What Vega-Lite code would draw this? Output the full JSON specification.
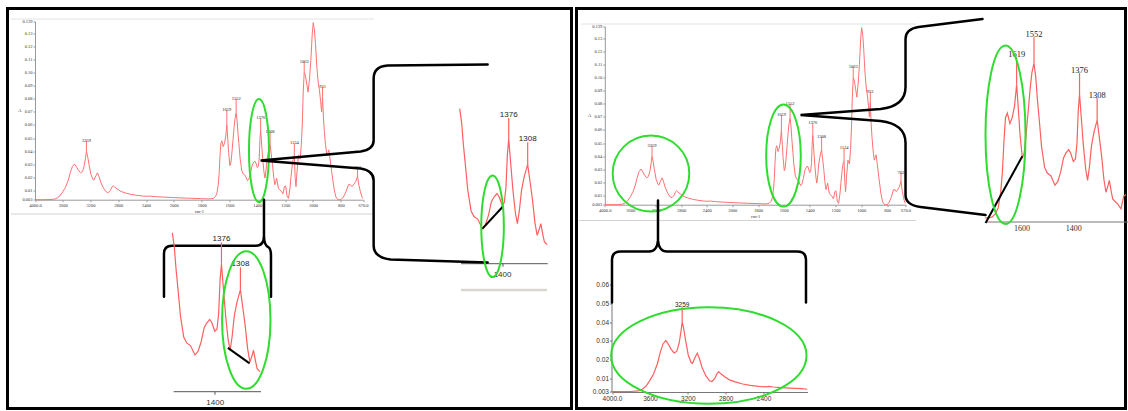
{
  "$schema": "https://vega.github.io/schema/vega-lite/v6.json",
  "autosize": {"type": "pad"},
  "padding": {"left": 5.5, "top": 6.5, "right": 1, "bottom": 1},
  "bounds": "flush",
  "spacing": 5,
  "background": "white",
  "config": {
    "view": {"stroke": "black", "strokeWidth": 3},
    "axis": {"grid": false}
  },
  "datasets": {
    "spectrum": [
      {"w": 4000, "A": 0.003}, {"w": 3900, "A": 0.003}, {"w": 3800, "A": 0.0031}, {"w": 3720, "A": 0.0034},
      {"w": 3680, "A": 0.0043}, {"w": 3640, "A": 0.006}, {"w": 3600, "A": 0.009}, {"w": 3560, "A": 0.0125},
      {"w": 3520, "A": 0.018}, {"w": 3490, "A": 0.024}, {"w": 3460, "A": 0.0285}, {"w": 3431, "A": 0.0302},
      {"w": 3405, "A": 0.0282}, {"w": 3375, "A": 0.0255}, {"w": 3344, "A": 0.0236}, {"w": 3315, "A": 0.0245},
      {"w": 3290, "A": 0.029}, {"w": 3272, "A": 0.035}, {"w": 3259, "A": 0.040}, {"w": 3245, "A": 0.037},
      {"w": 3222, "A": 0.030}, {"w": 3195, "A": 0.0225}, {"w": 3165, "A": 0.0185}, {"w": 3150, "A": 0.018},
      {"w": 3125, "A": 0.021}, {"w": 3100, "A": 0.0235}, {"w": 3080, "A": 0.021}, {"w": 3050, "A": 0.016},
      {"w": 3010, "A": 0.0115}, {"w": 2970, "A": 0.0088}, {"w": 2945, "A": 0.0084}, {"w": 2915, "A": 0.010},
      {"w": 2890, "A": 0.0128}, {"w": 2873, "A": 0.0136}, {"w": 2850, "A": 0.0125}, {"w": 2810, "A": 0.011},
      {"w": 2760, "A": 0.0093}, {"w": 2700, "A": 0.0082}, {"w": 2620, "A": 0.0071}, {"w": 2540, "A": 0.0064},
      {"w": 2450, "A": 0.0058}, {"w": 2380, "A": 0.0056}, {"w": 2340, "A": 0.0058}, {"w": 2300, "A": 0.0055},
      {"w": 2220, "A": 0.0052}, {"w": 2120, "A": 0.0049}, {"w": 2000, "A": 0.0046}, {"w": 1940, "A": 0.0043},
      {"w": 1880, "A": 0.0041}, {"w": 1800, "A": 0.0038}, {"w": 1740, "A": 0.0036}, {"w": 1715, "A": 0.004},
      {"w": 1700, "A": 0.0055}, {"w": 1690, "A": 0.008}, {"w": 1681, "A": 0.014}, {"w": 1674, "A": 0.023},
      {"w": 1668, "A": 0.036}, {"w": 1662, "A": 0.046}, {"w": 1655, "A": 0.048}, {"w": 1645, "A": 0.0435},
      {"w": 1636, "A": 0.046}, {"w": 1627, "A": 0.051}, {"w": 1619, "A": 0.060}, {"w": 1612, "A": 0.049},
      {"w": 1606, "A": 0.039}, {"w": 1597, "A": 0.029}, {"w": 1590, "A": 0.031}, {"w": 1584, "A": 0.037},
      {"w": 1575, "A": 0.048}, {"w": 1567, "A": 0.058}, {"w": 1560, "A": 0.065}, {"w": 1552, "A": 0.069},
      {"w": 1545, "A": 0.063}, {"w": 1539, "A": 0.054}, {"w": 1530, "A": 0.043}, {"w": 1523, "A": 0.034},
      {"w": 1511, "A": 0.025}, {"w": 1500, "A": 0.0225}, {"w": 1487, "A": 0.0215}, {"w": 1471, "A": 0.0175},
      {"w": 1460, "A": 0.019}, {"w": 1449, "A": 0.023}, {"w": 1438, "A": 0.029}, {"w": 1429, "A": 0.031},
      {"w": 1418, "A": 0.0325}, {"w": 1410, "A": 0.031}, {"w": 1400, "A": 0.0275}, {"w": 1392, "A": 0.0285},
      {"w": 1386, "A": 0.035}, {"w": 1381, "A": 0.049}, {"w": 1376, "A": 0.056}, {"w": 1370, "A": 0.047},
      {"w": 1361, "A": 0.034}, {"w": 1352, "A": 0.024}, {"w": 1345, "A": 0.0195}, {"w": 1338, "A": 0.025},
      {"w": 1330, "A": 0.034}, {"w": 1320, "A": 0.040}, {"w": 1308, "A": 0.045}, {"w": 1300, "A": 0.038},
      {"w": 1291, "A": 0.030}, {"w": 1282, "A": 0.020}, {"w": 1274, "A": 0.0145}, {"w": 1267, "A": 0.017},
      {"w": 1261, "A": 0.0195}, {"w": 1254, "A": 0.015}, {"w": 1248, "A": 0.0117}, {"w": 1238, "A": 0.0105},
      {"w": 1228, "A": 0.0095}, {"w": 1216, "A": 0.0075}, {"w": 1205, "A": 0.013}, {"w": 1196, "A": 0.0135},
      {"w": 1187, "A": 0.006}, {"w": 1176, "A": 0.004}, {"w": 1165, "A": 0.012}, {"w": 1158, "A": 0.020},
      {"w": 1148, "A": 0.030}, {"w": 1140, "A": 0.035}, {"w": 1134, "A": 0.036}, {"w": 1128, "A": 0.020},
      {"w": 1122, "A": 0.013}, {"w": 1115, "A": 0.024}, {"w": 1104, "A": 0.037}, {"w": 1092, "A": 0.034},
      {"w": 1084, "A": 0.045}, {"w": 1077, "A": 0.060}, {"w": 1070, "A": 0.085}, {"w": 1063, "A": 0.100},
      {"w": 1055, "A": 0.098}, {"w": 1044, "A": 0.091}, {"w": 1035, "A": 0.085}, {"w": 1025, "A": 0.095},
      {"w": 1015, "A": 0.110}, {"w": 1005, "A": 0.130}, {"w": 998, "A": 0.138}, {"w": 990, "A": 0.133},
      {"w": 982, "A": 0.122}, {"w": 972, "A": 0.104}, {"w": 962, "A": 0.092}, {"w": 953, "A": 0.086},
      {"w": 945, "A": 0.078}, {"w": 938, "A": 0.070}, {"w": 931, "A": 0.081}, {"w": 925, "A": 0.066},
      {"w": 918, "A": 0.055}, {"w": 910, "A": 0.045}, {"w": 900, "A": 0.037}, {"w": 892, "A": 0.039},
      {"w": 886, "A": 0.041}, {"w": 877, "A": 0.034}, {"w": 865, "A": 0.024}, {"w": 848, "A": 0.011},
      {"w": 835, "A": 0.005}, {"w": 820, "A": 0.003}, {"w": 800, "A": 0.003}, {"w": 785, "A": 0.005},
      {"w": 770, "A": 0.009}, {"w": 755, "A": 0.0145}, {"w": 745, "A": 0.0145}, {"w": 735, "A": 0.013},
      {"w": 722, "A": 0.015}, {"w": 712, "A": 0.017}, {"w": 702, "A": 0.021}, {"w": 694, "A": 0.014},
      {"w": 685, "A": 0.009}, {"w": 676, "A": 0.005}, {"w": 670, "A": 0.004}
    ],
    "peaks": [
      {"w": 3259, "A": 0.048, "base": 0.040},
      {"w": 1619, "A": 0.0715, "base": 0.060},
      {"w": 1552, "A": 0.080, "base": 0.069},
      {"w": 1376, "A": 0.065, "base": 0.056},
      {"w": 1308, "A": 0.0545, "base": 0.045},
      {"w": 1134, "A": 0.046, "base": 0.036},
      {"w": 1063, "A": 0.108, "base": 0.100},
      {"w": 931, "A": 0.089, "base": 0.081},
      {"w": 702, "A": 0.027, "base": 0.021}
    ]
  },
  "hconcat": [
    {
      "width": 564,
      "height": 400,
      "resolve": {
        "scale": {"x": "independent", "y": "independent"},
        "axis": {"x": "independent", "y": "independent"}
      },
      "layer": [
        {
          "data": {"name": "spectrum"},
          "mark": {"type": "line", "opacity": 0},
          "encoding": {
            "x": {"field": "w", "type": "quantitative", "scale": {"domain": [4000, 670], "range": [3, 366], "zero": false, "nice": false},
                  "axis": {"orient": "top", "offset": -10, "labels": false, "ticks": false, "title": null, "domainColor": "#e2e2e2"}},
            "y": {"field": "A", "type": "quantitative", "axis": null}
          }
        },
        {
          "data": {"name": "spectrum"},
          "mark": {"type": "line", "opacity": 0},
          "encoding": {
            "x": {"field": "w", "type": "quantitative", "scale": {"domain": [4000, 670], "range": [3, 366], "zero": false, "nice": false},
                  "axis": {"orient": "bottom", "offset": -195, "labels": false, "ticks": false, "title": null, "domainColor": "#d2d2d2"}},
            "y": {"field": "A", "type": "quantitative", "axis": null}
          }
        },
        {
          "data": {"name": "spectrum"},
          "transform": [{"filter": "datum.w <= 1549 && datum.w >= 1238"}],
          "mark": {"type": "line", "opacity": 0},
          "encoding": {
            "x": {"field": "w", "type": "quantitative", "scale": {"domain": [1549, 1238], "range": [453, 539], "zero": false, "nice": false},
                  "axis": {"orient": "bottom", "offset": -119, "labels": false, "ticks": false, "title": null, "domainColor": "#d9d6cf", "domainWidth": 2.5}},
            "y": {"field": "A", "type": "quantitative", "axis": null}
          }
        },
        {
          "encoding": {
            "x": {
              "field": "w", "type": "quantitative",
              "scale": {"domain": [4000, 2000, 800, 670], "range": [27.5, 166.3, 333.3, 355.5], "zero": false, "nice": false},
              "axis": {
                "orient": "bottom", "offset": -208.8,
                "values": [4000, 3600, 3200, 2800, 2400, 2000, 1800, 1600, 1400, 1200, 1000, 800, 670],
                "labelExpr": "datum.value == 4000 || datum.value == 670 ? format(datum.value, '.1f') : format(datum.value, 'd')",
                "title": "cm-1", "titleFont": "Liberation Serif", "titleFontSize": 4.5, "titleFontWeight": "normal",
                "titleColor": "#333", "titlePadding": 1,
                "labelFont": "Liberation Serif", "labelFontSize": 4.5, "labelColor": "#333", "labelPadding": 1,
                "labelFlush": false, "labelOverlap": false, "tickSize": 2, "tickColor": "#999", "domainColor": "#999"
              }
            },
            "y": {
              "field": "A", "type": "quantitative",
              "scale": {"domain": [0.003, 0.139], "range": [191.2, 12.9], "zero": false, "nice": false},
              "axis": {
                "orient": "left", "offset": -27.5,
                "values": [0.003, 0.01, 0.02, 0.03, 0.04, 0.05, 0.06, 0.07, 0.08, 0.09, 0.10, 0.11, 0.12, 0.13, 0.139],
                "labelExpr": "datum.value < 0.005 || datum.value > 0.135 ? format(datum.value, '.3f') : format(datum.value, '.2f')",
                "title": "A", "titleAngle": 0, "titleAlign": "right", "titleBaseline": "middle",
                "titleFont": "Liberation Serif", "titleFontSize": 4.5, "titleFontWeight": "normal", "titleColor": "#333", "titlePadding": 1,
                "labelFont": "Liberation Serif", "labelFontSize": 4.5, "labelColor": "#333", "labelPadding": 1,
                "labelOverlap": false, "tickSize": 2, "tickColor": "#999", "domainColor": "#999"
              }
            }
          },
          "layer": [
            {"data": {"name": "spectrum"}, "mark": {"type": "line", "color": "#ff7272", "strokeWidth": 1}},
            {"data": {"name": "peaks"}, "mark": {"type": "rule", "color": "#ff7272", "strokeWidth": 1}, "encoding": {"y2": {"field": "base"}}},
            {
              "data": {"name": "peaks"},
              "mark": {"type": "text", "font": "Liberation Serif", "fontSize": 4.5, "color": "#222", "baseline": "bottom", "dy": 2},
              "encoding": {"text": {"field": "w", "type": "quantitative", "format": "d"}}
            },
            {
              "data": {"values": [{"w": 1388, "A": 0.0405}]},
              "mark": {"type": "point", "shape": "M10,0C10,28.4 5.5,51.5 0,51.5C-5.5,51.5 -10,28.4 -10,0C-10,-28.4 -5.5,-51.5 0,-51.5C5.5,-51.5 10,-28.4 10,0Z", "size": 4, "filled": false, "color": "#2fdc2f", "strokeWidth": 2, "opacity": 1}
            },
            {
              "data": {"values": [{"w": 1376, "A": 0.0329}]},
              "mark": {"type": "point", "shape": "M227,-96L127,-95Q113,-94 113,-82L113,-20Q113,-11 100,-9L0,0L100,8Q113,10 113,20L113,85Q113,97 130,99L227,102", "size": 4, "filled": false, "color": "black", "strokeWidth": 2.5, "strokeCap": "round", "opacity": 1}
            },
            {
              "data": {"values": [{"w": 1352, "A": 0.003}]},
              "mark": {"type": "point", "shape": "M-100,97L-100,54Q-100,46 -92,46L-8,46Q0,46 0,36L0,0M0,36Q0,46 5,48Q7,50 7,56L7,97", "size": 4, "filled": false, "color": "black", "strokeWidth": 2.5, "strokeCap": "round", "opacity": 1}
            }
          ]
        },
        {
          "encoding": {
            "x": {
              "field": "w", "type": "quantitative",
              "scale": {"domain": [1549, 1238], "range": [453, 539.7], "zero": false, "nice": false},
              "axis": {
                "orient": "bottom", "offset": -145.3, "values": [1400], "format": "d", "title": null,
                "labelFont": "Liberation Sans", "labelFontSize": 8, "labelColor": "#333", "labelPadding": 4,
                "labelFlush": false, "tickSize": 3, "tickColor": "#555", "domainColor": "#555"
              }
            },
            "y": {
              "field": "A", "type": "quantitative",
              "scale": {"domain": [0.003, 0.0694], "range": [253.6, 99.2], "zero": false, "nice": false},
              "axis": null
            }
          },
          "layer": [
            {"data": {"name": "spectrum"}, "transform": [{"filter": "datum.w <= 1552 && datum.w >= 1238"}], "mark": {"type": "line", "color": "#ff5f5f", "strokeWidth": 1.2}},
            {"data": {"name": "peaks"}, "transform": [{"filter": "datum.w <= 1540 && datum.w >= 1238"}], "mark": {"type": "rule", "color": "#ff5f5f", "strokeWidth": 1.2}, "encoding": {"y2": {"field": "base"}}},
            {
              "data": {"name": "peaks"},
              "transform": [{"filter": "datum.w <= 1540 && datum.w >= 1238"}],
              "mark": {"type": "text", "font": "Liberation Sans", "fontSize": 8, "color": "#222", "baseline": "bottom", "dy": 1},
              "encoding": {"text": {"field": "w", "type": "quantitative", "format": "d"}}
            },
            {
              "data": {"values": [{"w": 1471, "A": 0.0173}, {"w": 1396, "A": 0.027}]},
              "mark": {"type": "line", "color": "black", "strokeWidth": 2}
            },
            {
              "data": {"values": [{"w": 1434, "A": 0.0184}]},
              "mark": {"type": "point", "shape": "M11.3,0C11.3,28.1 6.2,50.8 0,50.8C-6.2,50.8 -11.3,28.1 -11.3,0C-11.3,-28.1 -6.2,-50.8 0,-50.8C6.2,-50.8 11.3,-28.1 11.3,0Z", "size": 4, "filled": false, "color": "#2fdc2f", "strokeWidth": 2, "opacity": 1}
            }
          ]
        },
        {
          "encoding": {
            "x": {
              "field": "w", "type": "quantitative",
              "scale": {"domain": [1549, 1236], "range": [165.7, 253], "zero": false, "nice": false},
              "axis": {
                "orient": "bottom", "offset": -17.3, "values": [1400], "format": "d", "title": null,
                "labelFont": "Liberation Sans", "labelFontSize": 8, "labelColor": "#333", "labelPadding": 4,
                "labelFlush": false, "tickSize": 3, "tickColor": "#555", "domainColor": "#555"
              }
            },
            "y": {
              "field": "A", "type": "quantitative",
              "scale": {"domain": [0.003, 0.068], "range": [380.9, 226.8], "zero": false, "nice": false},
              "axis": null
            }
          },
          "layer": [
            {"data": {"name": "spectrum"}, "transform": [{"filter": "datum.w <= 1552 && datum.w >= 1236"}], "mark": {"type": "line", "color": "#ff5f5f", "strokeWidth": 1.2}},
            {"data": {"name": "peaks"}, "transform": [{"filter": "datum.w <= 1540 && datum.w >= 1236"}], "mark": {"type": "rule", "color": "#ff5f5f", "strokeWidth": 1.2}, "encoding": {"y2": {"field": "base"}}},
            {
              "data": {"name": "peaks"},
              "transform": [{"filter": "datum.w <= 1540 && datum.w >= 1236"}],
              "mark": {"type": "text", "font": "Liberation Sans", "fontSize": 8, "color": "#222", "baseline": "bottom", "dy": 1},
              "encoding": {"text": {"field": "w", "type": "quantitative", "format": "d"}}
            },
            {
              "data": {"values": [{"w": 1353, "A": 0.0205}, {"w": 1275, "A": 0.014}]},
              "mark": {"type": "line", "color": "black", "strokeWidth": 2}
            },
            {
              "data": {"values": [{"w": 1287, "A": 0.0323}]},
              "mark": {"type": "point", "shape": "M24.2,0C24.2,38 13.4,68.8 0,68.8C-13.4,68.8 -24.2,38 -24.2,0C-24.2,-38 -13.4,-68.8 0,-68.8C13.4,-68.8 24.2,-38 24.2,0Z", "size": 4, "filled": false, "color": "#2fdc2f", "strokeWidth": 2, "opacity": 1}
            }
          ]
        }
      ]
    },
    {
      "width": 549,
      "height": 400,
      "resolve": {
        "scale": {"x": "independent", "y": "independent"},
        "axis": {"x": "independent", "y": "independent"}
      },
      "layer": [
        {
          "data": {"name": "spectrum"},
          "mark": {"type": "line", "opacity": 0},
          "encoding": {
            "x": {"field": "w", "type": "quantitative", "scale": {"domain": [4000, 670], "range": [4, 339], "zero": false, "nice": false},
                  "axis": {"orient": "top", "offset": -15, "labels": false, "ticks": false, "title": null, "domainColor": "#e2e2e2"}},
            "y": {"field": "A", "type": "quantitative", "axis": null}
          }
        },
        {
          "data": {"name": "spectrum"},
          "mark": {"type": "line", "opacity": 0},
          "encoding": {
            "x": {"field": "w", "type": "quantitative", "scale": {"domain": [4000, 670], "range": [2, 339], "zero": false, "nice": false},
                  "axis": {"orient": "bottom", "offset": -188.5, "labels": false, "ticks": false, "title": null, "domainColor": "#d2d2d2"}},
            "y": {"field": "A", "type": "quantitative", "axis": null}
          }
        },
        {
          "encoding": {
            "x": {
              "field": "w", "type": "quantitative",
              "scale": {"domain": [4000, 2000, 800, 670], "range": [28.3, 155.7, 310.7, 329], "zero": false, "nice": false},
              "axis": {
                "orient": "bottom", "offset": -203.8,
                "values": [4000, 3600, 3200, 2800, 2400, 2000, 1800, 1600, 1400, 1200, 1000, 800, 670],
                "labelExpr": "datum.value == 4000 || datum.value == 670 ? format(datum.value, '.1f') : format(datum.value, 'd')",
                "title": "cm-1", "titleFont": "Liberation Serif", "titleFontSize": 4.5, "titleFontWeight": "normal",
                "titleColor": "#333", "titlePadding": 1,
                "labelFont": "Liberation Serif", "labelFontSize": 4.5, "labelColor": "#333", "labelPadding": 1,
                "labelFlush": false, "labelOverlap": false, "tickSize": 2, "tickColor": "#999", "domainColor": "#999"
              }
            },
            "y": {
              "field": "A", "type": "quantitative",
              "scale": {"domain": [0.003, 0.139], "range": [196.2, 17.9], "zero": false, "nice": false},
              "axis": {
                "orient": "left", "offset": -28.3,
                "values": [0.003, 0.01, 0.02, 0.03, 0.04, 0.05, 0.06, 0.07, 0.08, 0.09, 0.10, 0.11, 0.12, 0.13, 0.139],
                "labelExpr": "datum.value < 0.005 || datum.value > 0.135 ? format(datum.value, '.3f') : format(datum.value, '.2f')",
                "title": "A", "titleAngle": 0, "titleAlign": "right", "titleBaseline": "middle",
                "titleFont": "Liberation Serif", "titleFontSize": 4.5, "titleFontWeight": "normal", "titleColor": "#333", "titlePadding": 1,
                "labelFont": "Liberation Serif", "labelFontSize": 4.5, "labelColor": "#333", "labelPadding": 1,
                "labelOverlap": false, "tickSize": 2, "tickColor": "#999", "domainColor": "#999"
              }
            }
          },
          "layer": [
            {"data": {"name": "spectrum"}, "mark": {"type": "line", "color": "#ff7272", "strokeWidth": 1}},
            {"data": {"name": "peaks"}, "mark": {"type": "rule", "color": "#ff7272", "strokeWidth": 1}, "encoding": {"y2": {"field": "base"}}},
            {
              "data": {"name": "peaks"},
              "mark": {"type": "text", "font": "Liberation Serif", "fontSize": 4.5, "color": "#222", "baseline": "bottom", "dy": 2},
              "encoding": {"text": {"field": "w", "type": "quantitative", "format": "d"}}
            },
            {
              "data": {"values": [{"w": 3275, "A": 0.0268}]},
              "mark": {"type": "point", "shape": "M38.3,0C38.3,21 21.2,38 0,38C-21.2,38 -38.3,21 -38.3,0C-38.3,-21 -21.2,-38 0,-38C21.2,-38 38.3,-21 38.3,0Z", "size": 4, "filled": false, "color": "#2fdc2f", "strokeWidth": 2, "opacity": 1}
            },
            {
              "data": {"values": [{"w": 1603, "A": 0.0405}]},
              "mark": {"type": "point", "shape": "M17.3,0C17.3,28.2 9.6,51 0,51C-9.6,51 -17.3,28.2 -17.3,0C-17.3,-28.2 -9.6,-51 0,-51C9.6,-51 17.3,-28.2 17.3,0Z", "size": 4, "filled": false, "color": "#2fdc2f", "strokeWidth": 2, "opacity": 1}
            },
            {
              "data": {"values": [{"w": 1471, "A": 0.0714}]},
              "mark": {"type": "point", "shape": "M182,-96L118,-88Q105,-86 105,-76L105,-28Q105,-9 80,-6L0,0L80,6Q105,9 105,28L105,80Q105,90 120,92L185,100", "size": 4, "filled": false, "color": "black", "strokeWidth": 2.5, "strokeCap": "round", "opacity": 1}
            },
            {
              "data": {"values": [{"w": 3165, "A": 0.0062}]},
              "mark": {"type": "point", "shape": "M-46,102L-46,59Q-46,51 -37,51L-9,51Q-1,51 0,40L0,0M0,40Q1,51 9,51L139,51Q148,51 148,59L148,102", "size": 4, "filled": false, "color": "black", "strokeWidth": 2.5, "strokeCap": "round", "opacity": 1}
            }
          ]
        },
        {
          "encoding": {
            "x": {
              "field": "w", "type": "quantitative",
              "scale": {"domain": [1735, 1185], "range": [410.1, 552.5], "zero": false, "nice": false},
              "axis": {
                "orient": "bottom", "offset": -187, "values": [1600, 1400], "format": "d", "title": null,
                "labelFont": "Liberation Serif", "labelFontSize": 8, "labelColor": "#333", "labelPadding": 3,
                "labelFlush": false, "tickSize": 0, "domainColor": "#777"
              }
            },
            "y": {
              "field": "A", "type": "quantitative",
              "scale": {"domain": [0.003, 0.0935], "range": [211, -3.3], "zero": false, "nice": false},
              "axis": null
            }
          },
          "layer": [
            {"data": {"name": "spectrum"}, "transform": [{"filter": "datum.w <= 1740 && datum.w >= 1190"}], "mark": {"type": "line", "color": "#ff5f5f", "strokeWidth": 1.2}},
            {"data": {"name": "peaks"}, "transform": [{"filter": "datum.w <= 1735 && datum.w >= 1190"}], "mark": {"type": "rule", "color": "#ff5f5f", "strokeWidth": 1.2}, "encoding": {"y2": {"field": "base"}}},
            {
              "data": {"name": "peaks"},
              "transform": [{"filter": "datum.w <= 1735 && datum.w >= 1190"}],
              "mark": {"type": "text", "font": "Liberation Serif", "fontSize": 8.5, "color": "#222", "baseline": "bottom", "dy": 2},
              "encoding": {"text": {"field": "w", "type": "quantitative", "format": "d"}}
            },
            {
              "data": {"values": [{"w": 1739, "A": 0.0015}, {"w": 1597, "A": 0.0297}]},
              "mark": {"type": "line", "color": "black", "strokeWidth": 2}
            },
            {
              "data": {"values": [{"w": 1662, "A": 0.0388}]},
              "mark": {"type": "point", "shape": "M20,0C20,49.3 11,89.2 0,89.2C-11,89.2 -20,49.3 -20,0C-20,-49.3 -11,-89.2 0,-89.2C11,-89.2 20,-49.3 20,0Z", "size": 4, "filled": false, "color": "#2fdc2f", "strokeWidth": 2, "opacity": 1}
            }
          ]
        },
        {
          "encoding": {
            "x": {
              "field": "w", "type": "quantitative",
              "scale": {"domain": [4000, 1936], "range": [35.5, 231], "zero": false, "nice": false},
              "axis": {
                "orient": "bottom", "offset": -16.5, "values": [4000, 3600, 3200, 2800, 2400], "title": null,
                "labelExpr": "datum.value == 4000 ? '4000.0' : format(datum.value, 'd')",
                "labelFont": "Liberation Sans", "labelFontSize": 6.5, "labelColor": "#333", "labelPadding": 1.5,
                "labelFlush": false, "tickSize": 2, "tickColor": "#777", "domainColor": "#777"
              }
            },
            "y": {
              "field": "A", "type": "quantitative",
              "scale": {"domain": [0.003, 0.062], "range": [383.2, 272.1], "zero": false, "nice": false},
              "axis": {
                "orient": "left", "offset": -35, "values": [0.003, 0.01, 0.02, 0.03, 0.04, 0.05, 0.06], "title": null,
                "labelExpr": "datum.value < 0.005 ? '0.003' : format(datum.value, '.2f')",
                "labelFont": "Liberation Sans", "labelFontSize": 6.5, "labelColor": "#333", "labelPadding": 1,
                "labelOverlap": false, "tickSize": 2, "tickColor": "#777", "domainColor": "#777"
              }
            }
          },
          "layer": [
            {"data": {"name": "spectrum"}, "transform": [{"filter": "datum.w >= 1936"}], "mark": {"type": "line", "color": "#ff5f5f", "strokeWidth": 1.2}},
            {"data": {"name": "peaks"}, "transform": [{"filter": "datum.w >= 1936"}], "mark": {"type": "rule", "color": "#ff5f5f", "strokeWidth": 1.2}, "encoding": {"y2": {"field": "base"}}},
            {
              "data": {"name": "peaks"},
              "transform": [{"filter": "datum.w >= 1936"}],
              "mark": {"type": "text", "font": "Liberation Sans", "fontSize": 6.5, "color": "#222", "baseline": "bottom", "dy": 1},
              "encoding": {"text": {"field": "w", "type": "quantitative", "format": "d"}}
            },
            {
              "data": {"values": [{"w": 2978, "A": 0.0222}]},
              "mark": {"type": "point", "shape": "M97.7,0C97.7,26.7 54,48.3 0,48.3C-54,48.3 -97.7,26.7 -97.7,0C-97.7,-26.7 -54,-48.3 0,-48.3C54,-48.3 97.7,-26.7 97.7,0Z", "size": 4, "filled": false, "color": "#2fdc2f", "strokeWidth": 2, "opacity": 1}
            }
          ]
        }
      ]
    }
  ]
}
